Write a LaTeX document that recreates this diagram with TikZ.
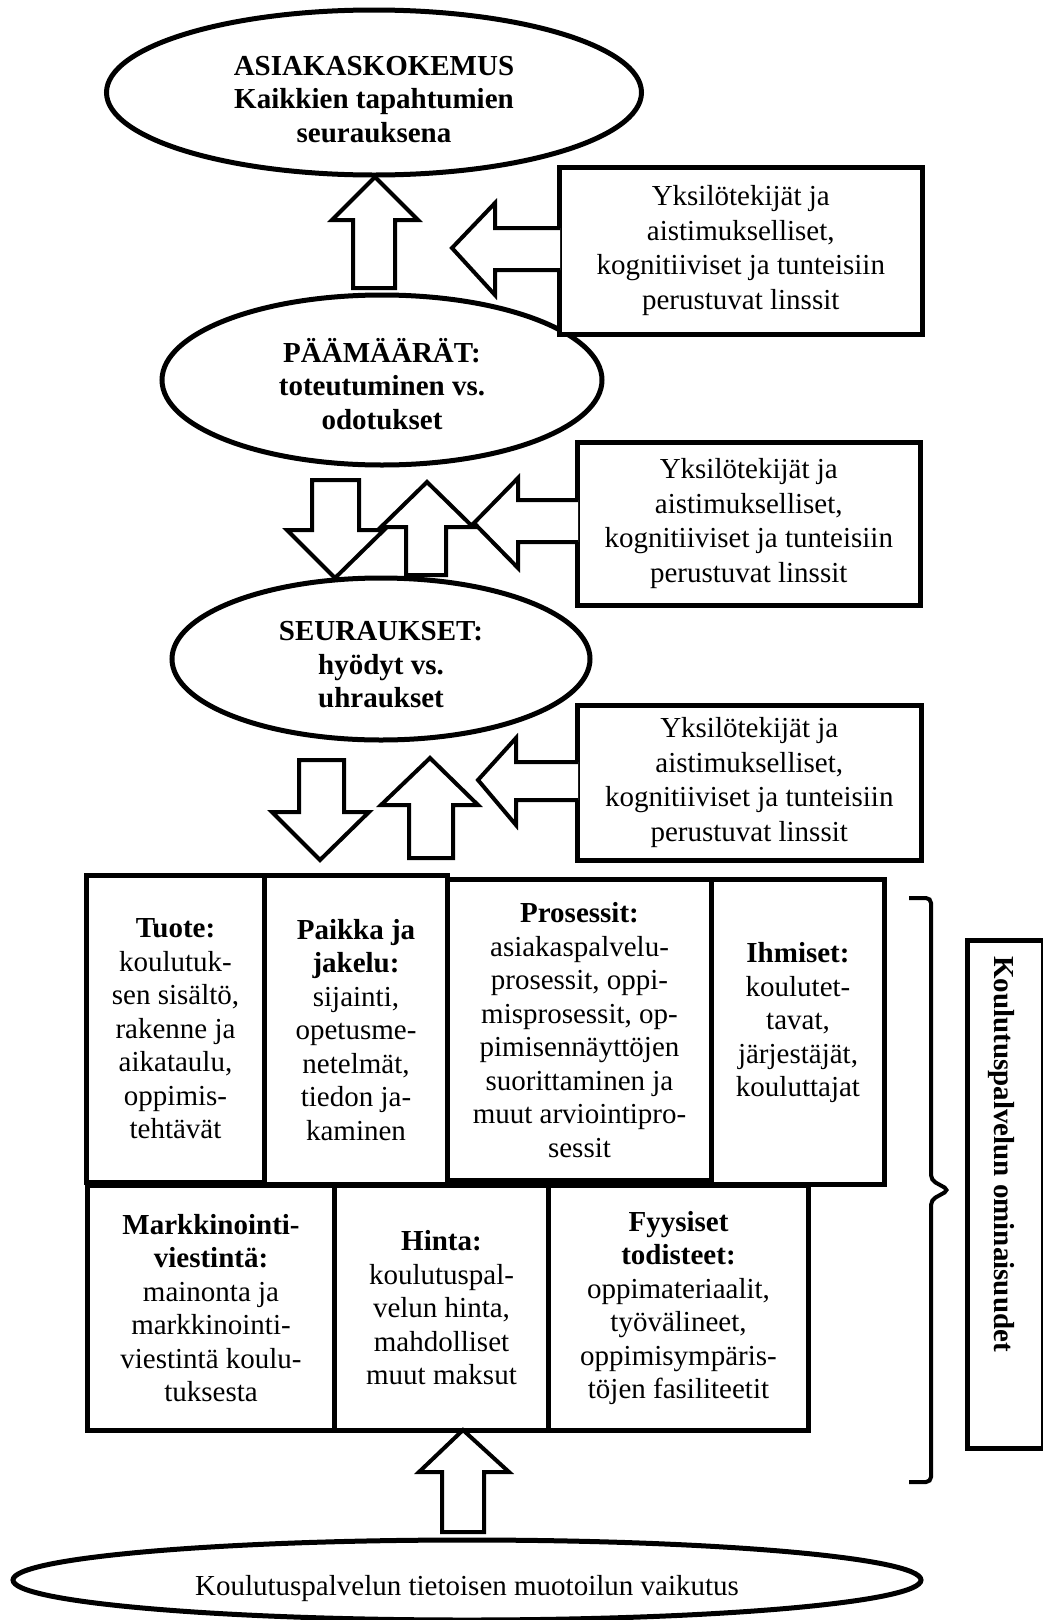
\documentclass[tikz,border=0pt]{standalone}
\usepackage{fontspec}
\setmainfont{Liberation Serif}
\usetikzlibrary{shapes.geometric}
\begin{document}
\begin{tikzpicture}[x=1pt,y=-1pt,
  every node/.style={font=\fontsize{29}{34}\selectfont, inner sep=0pt},
  oval/.style={draw, ellipse, line width=5pt, inner sep=0pt},
  otext/.style={align=center, font=\fontsize{29}{33.5}\selectfont\bfseries},
  lensbox/.style={draw, rectangle, line width=4.5pt, fill=white, align=center, anchor=north west, font=\fontsize{29}{34.5}\selectfont},
  cell/.style={draw, rectangle, line width=5pt, align=center, anchor=north west, font=\fontsize{29}{33.5}\selectfont},
  blockarrow/.style={draw, line width=4pt, fill=white, line join=miter},
]
\useasboundingbox (0,0) rectangle (1043,1620);

% ellipses
\node[oval, minimum width=535pt, minimum height=165pt] (top) at (374,92.5) {};
\node[otext] (toptxt) at (374,99.5) {ASIAKASKOKEMUS\\Kaikkien tapahtumien\\seurauksena};
\node[oval, minimum width=440pt, minimum height=170pt] (goal) at (382,380) {};
\node[otext] (goaltxt) at (382,384) {PÄÄMÄÄRÄT:\\toteutuminen vs.\\odotukset};
\node[oval, minimum width=418pt, minimum height=162pt] (cons) at (381,659) {};
\node[otext] (constxt) at (381,665) {SEURAUKSET:\\hyödyt vs.\\uhraukset};
\node[oval, minimum width=908pt, minimum height=80pt] (base) at (467,1580) {};
\node (basetxt) at (467,1589) {Koulutuspalvelun tietoisen muotoilun vaikutus};

% lens boxes
\node[lensbox, minimum width=363pt, minimum height=167pt] (lens1) at (557,165) {Yksilötekijät ja\\aistimukselliset,\\kognitiiviset ja tunteisiin\\perustuvat linssit};
\node[lensbox, minimum width=343pt, minimum height=163pt] (lens2) at (575,440) {Yksilötekijät ja\\aistimukselliset,\\kognitiiviset ja tunteisiin\\perustuvat linssit};
\node[lensbox, minimum width=344pt, minimum height=155pt] (lens3) at (575,703) {Yksilötekijät ja\\aistimukselliset,\\kognitiiviset ja tunteisiin\\perustuvat linssit};

% block arrows
\filldraw[blockarrow] (353,288) -- (353,220) -- (332,220) -- (375,177) -- (418,220) -- (395,220) -- (395,288) -- cycle;
\filldraw[blockarrow] (560,228) -- (495,228) -- (495,203) -- (452,248) -- (495,295) -- (495,270) -- (560,270);

\filldraw[blockarrow] (312,480) -- (359,480) -- (359,530) -- (384,530) -- (335,578) -- (287,530) -- (312,530) -- cycle;
\filldraw[blockarrow] (406,575) -- (406,527) -- (381,527) -- (427,482) -- (473,527) -- (446,527) -- (446,575) -- cycle;
\filldraw[blockarrow] (578,500) -- (518,500) -- (518,478) -- (474,523) -- (518,568) -- (518,542) -- (578,542);

\filldraw[blockarrow] (299,760) -- (344,760) -- (344,812) -- (369,812) -- (320,860) -- (272,812) -- (299,812) -- cycle;
\filldraw[blockarrow] (409,858) -- (409,805) -- (381,805) -- (430,758) -- (478,805) -- (453,805) -- (453,858) -- cycle;
\filldraw[blockarrow] (578,762) -- (516,762) -- (516,738) -- (478,780) -- (516,825) -- (516,800) -- (578,800);

\filldraw[blockarrow] (442,1532) -- (442,1472) -- (419,1472) -- (463,1430) -- (509,1472) -- (484,1472) -- (484,1532) -- cycle;

% grid row 1
\node[cell, minimum width=178pt, minimum height=307pt] (tuote) at (84,873) {\textbf{Tuote:}\\koulutuk-\\sen sisältö,\\rakenne ja\\aikataulu,\\oppimis-\\tehtävät};
\node[cell, minimum width=183pt, minimum height=309pt] (paikka) at (262,873) {\textbf{Paikka ja}\\\textbf{jakelu:}\\sijainti,\\opetusme-\\netelmät,\\tiedon ja-\\kaminen};
\node[cell, minimum width=264pt, minimum height=301pt] (prosessit) at (445,877) {\textbf{Prosessit:}\\asiakaspalvelu-\\prosessit, oppi-\\misprosessit, op-\\pimisennäyttöjen\\suorittaminen ja\\muut arviointipro-\\sessit};
\node[cell, minimum width=173pt, minimum height=305pt] (ihmiset) at (709,877) {\textbf{Ihmiset:}\\koulutet-\\tavat,\\järjestäjät,\\kouluttajat\\[-9pt]\mbox{}};
% grid row 2
\node[cell, minimum width=247pt, minimum height=245pt] (markk) at (85,1183) {\textbf{Markkinointi-}\\\textbf{viestintä:}\\mainonta ja\\markkinointi-\\viestintä koulu-\\tuksesta};
\node[cell, minimum width=214pt, minimum height=245pt] (hinta) at (332,1183) {\textbf{Hinta:}\\koulutuspal-\\velun hinta,\\mahdolliset\\muut maksut};
\node[cell, minimum width=260pt, minimum height=245pt] (fyys) at (546,1183) {\textbf{Fyysiset}\\\textbf{todisteet:}\\oppimateriaalit,\\työvälineet,\\oppimisympäris-\\töjen fasiliteetit};

% bracket
\draw[line width=4pt, rounded corners=5pt] (909,898) -- (931,898) -- (931,1180) -- (949,1190) -- (931,1200) -- (931,1482) -- (909,1482);

% side label
\node[draw, line width=4.5pt, minimum width=76pt, minimum height=508pt, anchor=north west] (lab) at (965,938) {};
\node[rotate=-90, font=\fontsize{29}{34}\selectfont\bfseries] (labtxt) at (1001,1154) {Koulutuspalvelun ominaisuudet};
\end{tikzpicture}
\end{document}
